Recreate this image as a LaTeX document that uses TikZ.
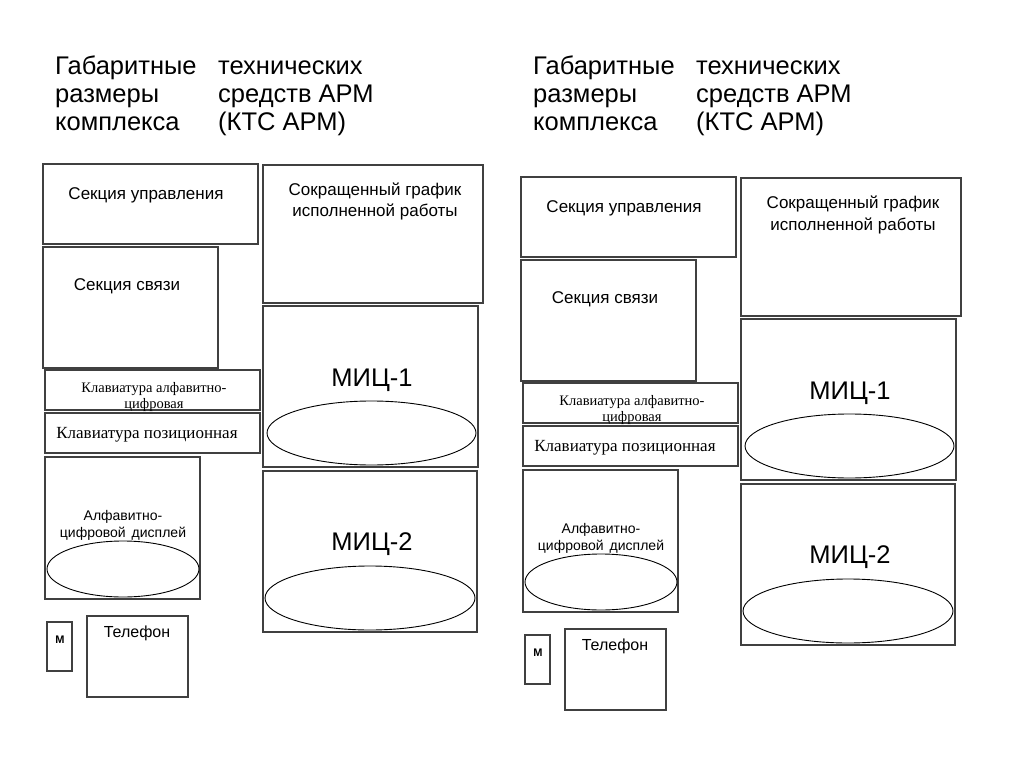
\documentclass[tikz,border=0pt]{standalone}
\usepackage{fontspec}
\setmainfont{Liberation Sans}
\newfontfamily\serifcyr{Liberation Serif}
\usetikzlibrary{shapes.geometric}
\tikzset{
  box/.style={draw=black!75, line width=1.3pt, inner sep=0pt, outer sep=0pt, rectangle},
  oval/.style={draw=black, line width=0.9pt, ellipse, inner sep=0pt, outer sep=0pt},
  lbl/.style={inner sep=0pt, anchor=base, text=black},
  title/.style={inner sep=0pt, anchor=base west, font=\fontsize{25.5}{28}\selectfont},
  mid/.style={lbl, font=\fontsize{17}{20}\selectfont},
  big/.style={lbl, font=\fontsize{25.5}{30}\selectfont},
}
\newcommand{\mybox}[5]{%
  \node[box, minimum width={(#4-#2)*1pt}, minimum height={(#5-#3)*1pt}] (#1) at ({(#2+#4)/2},{(#3+#5)/2}) {};}
\newcommand{\myoval}[5]{%
  \node[oval, minimum width={#4*1pt}, minimum height={#5*1pt}] (#1) at (#2,#3) {};}
\begin{document}
\begin{tikzpicture}[x=1pt,y=-1pt]
\useasboundingbox (0,0) rectangle (1024,767);
\foreach \p/\dx/\dy in {L/0/0, R/478/13} {
  \begin{scope}[shift={(\dx,0)}]
    \node[title] (\p-t1) at (55,75) {Габаритные};
    \node[title] (\p-t2) at (55,103) {размеры};
    \node[title] (\p-t3) at (55,131) {комплекса};
    \node[title] (\p-t4) at (218,75) {технических};
    \node[title] (\p-t5) at (218,103) {средств АРМ};
    \node[title] (\p-t6) at (218,131) {(КТС АРМ)};
  \end{scope}
  \begin{scope}[shift={(\dx,\dy)}]
    \mybox{\p-su}{43}{164}{258}{244}
    \node[mid] (\p-sut) at (146,200) {Секция управления};
    \mybox{\p-ss}{43}{247}{218}{368}
    \node[mid] (\p-sst) at (127,290) {Секция связи};
    \mybox{\p-ka}{45}{370}{260}{410}
    \node[lbl, font=\serifcyr\fontsize{14.5}{16}\selectfont] (\p-kat1) at (154,392) {Клавиатура алфавитно-};
    \node[lbl, font=\serifcyr\fontsize{14.5}{16}\selectfont] (\p-kat2) at (154,408) {цифровая};
    \mybox{\p-kp}{45}{413}{260}{453}
    \node[lbl, font=\serifcyr\fontsize{17}{20}\selectfont] (\p-kpt) at (147,438) {Клавиатура позиционная};
    \mybox{\p-ad}{45}{457}{200}{599}
    \myoval{\p-ade}{123}{569}{152}{56}
    \node[lbl, font=\fontsize{14}{16}\selectfont] (\p-adt1) at (123,520) {Алфавитно-};
    \node[lbl, font=\fontsize{14}{16}\selectfont] (\p-adt2) at (123,537) {цифровой\hspace{6pt}дисплей};
    \mybox{\p-m}{47}{622}{72}{671}
    \node[lbl, font=\bfseries\fontsize{11}{13}\selectfont] (\p-mt) at (60,643) {M};
    \mybox{\p-tel}{87}{616}{188}{697}
    \node[lbl, font=\fontsize{16}{18}\selectfont] (\p-telt) at (137,637) {Телефон};
    \mybox{\p-sg}{263}{165}{483}{303}
    \node[mid] (\p-sgt1) at (375,196) {Сокращенный график};
    \node[mid] (\p-sgt2) at (375,217) {исполненной работы};
    \mybox{\p-m1}{263}{306}{478}{467}
    \myoval{\p-m1e}{371.5}{433}{209}{64}
    \node[big] (\p-m1t) at (372,386) {МИЦ-1};
    \mybox{\p-m2}{263}{471}{477}{632}
    \myoval{\p-m2e}{370}{598}{210}{64}
    \node[big] (\p-m2t) at (372,550) {МИЦ-2};
  \end{scope}
}
\end{tikzpicture}
\end{document}
